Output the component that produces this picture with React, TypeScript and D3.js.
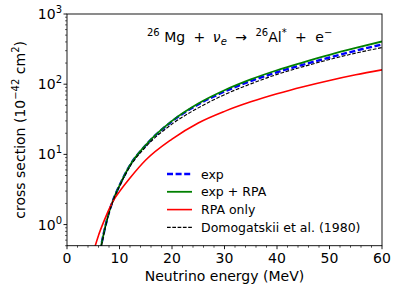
import React from "react";
import * as d3 from "d3";

const energyExp = [6.3, 7, 8, 9, 10, 12, 15, 20, 25, 30, 35, 40, 45, 50, 55, 60];
const sigmaExp = [0.42, 0.75, 1.5, 2.45, 3.6, 7.0, 13.5, 29.5, 51.5, 78.5, 111, 148, 190, 240, 300, 368];

const energyRPAExp = [6.3, 7, 8, 9, 10, 12, 15, 20, 25, 30, 35, 40, 45, 50, 55, 60];
const sigmaRPAExp = [0.42, 0.75, 1.5, 2.45, 3.6, 7.0, 13.6, 30, 53, 82, 117, 158, 205, 262, 328, 406];

const energyRPA = [5.2, 6, 7, 8, 9, 10, 12, 15, 20, 25, 30, 35, 40, 45, 50, 55, 60];
const sigmaRPA = [0.45, 0.7, 1.1, 1.65, 2.3, 2.95, 4.6, 8.3, 16.5, 28, 41, 56, 73, 92, 113, 136, 160];

const energyDomo = [6.4, 7, 8, 9, 10, 12, 15, 20, 25, 30, 35, 40, 45, 50, 55, 60];
const sigmaDomo = [0.42, 0.72, 1.45, 2.4, 3.5, 6.7, 12.8, 27, 46, 71, 101, 138, 178, 225, 277, 333];

const xTicks = [0, 10, 20, 30, 40, 50, 60];
const yTickExps = [0, 1, 2, 3];
const legendLabels = ["exp", "exp + RPA", "RPA only", "Domogatskii et al. (1980)"];

const W = 398, H = 289;
const L = 67, R = 382, T = 14, B = 245.7;
const FONT = "DejaVu Sans, sans-serif";

export default function App() {
  const x = d3.scaleLinear().domain([0, 60]).range([L, R]);
  const y = d3.scaleLog().domain([0.5, 1000]).range([B, T]);

  const line = (xs: number[], ys: number[]) =>
    d3.line<number>().x((_, i) => x(xs[i])).y((d) => y(d)).curve(d3.curveMonotoneX)(ys) || "";

  const xMinor = d3.range(0, 61, 2).filter((v) => v % 10 !== 0);
  const yMinor: number[] = [];
  for (let e = -1; e < 3; e++) {
    for (let k = 2; k <= 9; k++) {
      const v = k * Math.pow(10, e);
      if (v >= 0.5 && v <= 1000) yMinor.push(v);
    }
  }

  const series = [
    { xs: energyExp, ys: sigmaExp, color: "#0000ff", width: 2.4, dash: "6,2.6" },
    { xs: energyRPAExp, ys: sigmaRPAExp, color: "#008000", width: 1.8, dash: "" },
    { xs: energyRPA, ys: sigmaRPA, color: "#ff0000", width: 1.6, dash: "" },
    { xs: energyDomo, ys: sigmaDomo, color: "#000000", width: 1.1, dash: "3.7,1.6" },
  ];

  return (
    <div style={{ position: "fixed", left: 0, top: 0 }}>
      <svg width={W} height={H} style={{ display: "block", background: "#fff" }} fontFamily={FONT}>
        <defs>
          <clipPath id="plotclip">
            <rect x={L} y={T} width={R - L} height={B - T} />
          </clipPath>
        </defs>
        <g clipPath="url(#plotclip)">
          {series.map((s, i) => (
            <path key={i} d={line(s.xs, s.ys)} fill="none" stroke={s.color} strokeWidth={s.width} strokeDasharray={s.dash || undefined} />
          ))}
        </g>
        <rect x={L} y={T} width={R - L} height={B - T} fill="none" stroke="#000" strokeWidth={0.9} />
        {xTicks.map((t) => (
          <g key={"xt" + t}>
            <line x1={x(t)} x2={x(t)} y1={B} y2={B + 3.5} stroke="#000" strokeWidth={0.9} />
            <text x={x(t)} y={262.5} textAnchor="middle" fontSize={14} fill="#000">{t}</text>
          </g>
        ))}
        {xMinor.map((t) => (
          <line key={"xm" + t} x1={x(t)} x2={x(t)} y1={B} y2={B + 2} stroke="#000" strokeWidth={0.7} />
        ))}
        {yTickExps.map((e) => (
          <g key={"yt" + e}>
            <line x1={L - 3.5} x2={L} y1={y(Math.pow(10, e))} y2={y(Math.pow(10, e))} stroke="#000" strokeWidth={0.9} />
            <text x={L - 5} y={y(Math.pow(10, e)) + 5} textAnchor="end" fontSize={14} fill="#000">
              10<tspan fontSize={10} dy={-6}>{e}</tspan>
            </text>
          </g>
        ))}
        {yMinor.map((v, i) => (
          <line key={"ym" + i} x1={L - 2} x2={L} y1={y(v)} y2={y(v)} stroke="#000" strokeWidth={0.6} />
        ))}
        <text x={(L + R) / 2} y={281} textAnchor="middle" fontSize={14} fill="#000">Neutrino energy (MeV)</text>
        <text transform={`translate(25,${(T + B) / 2}) rotate(-90)`} textAnchor="middle" fontSize={14} fill="#000">
          cross section (10<tspan fontSize={10} dy={-6}>−42</tspan><tspan dy={6}> cm</tspan><tspan fontSize={10} dy={-6}>2</tspan><tspan dy={6}>)</tspan>
        </text>
        <text x={147} y={42} fontSize={14} fill="#000">
          <tspan fontSize={10} dy={-6}>26</tspan>
          <tspan dy={6}> Mg</tspan>
          <tspan dx={4}> + </tspan>
          <tspan dx={3} fontStyle="italic">ν</tspan>
          <tspan fontSize={10} dy={3} fontStyle="italic">e</tspan>
          <tspan dx={4} dy={-3}> → </tspan>
          <tspan dx={4} fontSize={10} dy={-6}>26</tspan>
          <tspan dy={6}>Al</tspan>
          <tspan fontSize={10} dy={-6}>*</tspan>
          <tspan dx={4} dy={6}> + </tspan>
          <tspan dx={4}>e</tspan>
          <tspan fontSize={10} dy={-6}>−</tspan>
        </text>
        {series.map((s, i) => {
          const ly = 174 + i * 17.8;
          return (
            <g key={"lg" + i}>
              <line x1={167} x2={192} y1={ly} y2={ly} stroke={s.color} strokeWidth={s.width} strokeDasharray={s.dash || undefined} />
              <text x={201} y={ly + 4.5} fontSize={12.5} fill="#000">{legendLabels[i]}</text>
            </g>
          );
        })}
      </svg>
    </div>
  );
}
